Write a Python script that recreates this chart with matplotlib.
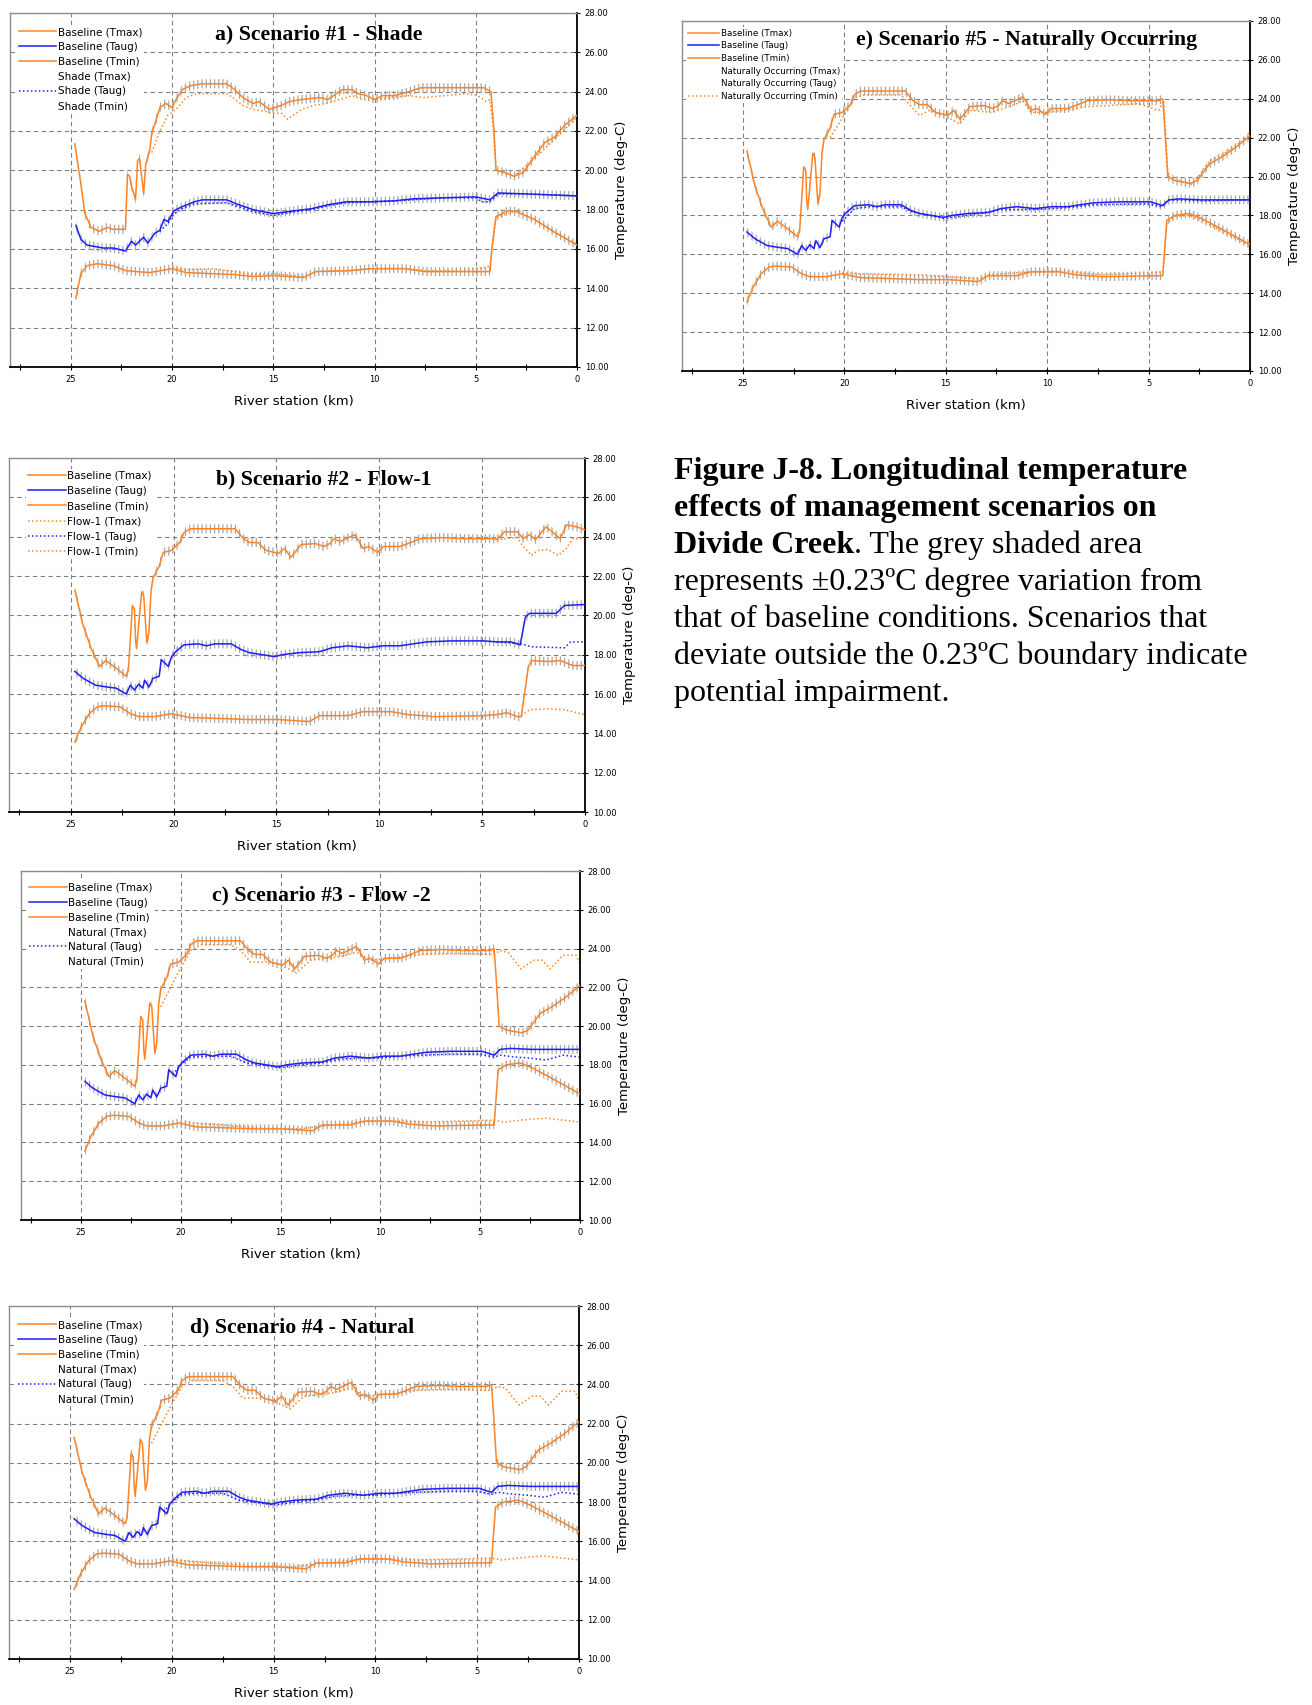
import matplotlib.pyplot as plt
from matplotlib.lines import Line2D
from matplotlib.ticker import FormatStrFormatter

# ---- baseline used in panels b-e (river km, deg C) ----
BASE_KM_MAX = [24.8, 24.4, 24.0, 23.6, 23.3, 22.9, 22.3, 22.2, 22.0, 21.9,
               21.85, 21.8, 21.55, 21.45, 21.3, 21.2, 21.1, 21.0, 20.7, 20.5,
               20.1, 19.7, 19.5, 19.2, 18.4, 17.0, 16.6, 16.3, 15.9, 15.5,
               14.9, 14.6, 14.3, 14.1, 13.8, 13.1, 12.7, 12.4, 12.2, 11.9,
               11.6, 11.2, 11.0, 10.8, 10.5, 10.1, 9.8, 9.0, 8.6, 8.0,
               6.9, 5.9, 4.5, 4.3, 4.2, 4.05, 3.7, 2.9, 2.6, 2.0,
               1.4, 0.7, 0.0]
BASE_TMAX = [21.3, 19.5, 18.3, 17.4, 17.7, 17.4, 16.9, 17.2, 20.5, 20.3,
             18.8, 18.3, 21.2, 21.0, 18.6, 19.1, 21.2, 21.9, 22.5, 23.2,
             23.3, 23.7, 24.2, 24.4, 24.4, 24.4, 23.9, 23.7, 23.7, 23.3,
             23.15, 23.4, 22.95, 23.2, 23.6, 23.65, 23.5, 23.65, 23.9, 23.75,
             23.9, 24.1, 23.8, 23.4, 23.5, 23.2, 23.5, 23.5, 23.65, 23.9,
             23.95, 23.9, 23.9, 24.0, 22.5, 20.0, 19.8, 19.65, 19.8, 20.65,
             21.0, 21.5, 22.1]
BASE_KM_AVG = [24.8, 24.4, 23.8, 23.2, 22.8, 22.3, 22.1, 21.9, 21.7, 21.5,
               21.4, 21.2, 21.0, 20.7, 20.6, 20.4, 20.25, 20.1, 19.9, 19.5,
               18.8, 18.4, 18.0, 17.2, 16.7, 16.3, 15.7, 15.1, 14.7, 13.9,
               12.9, 12.3, 11.5, 10.6, 9.8, 9.0, 7.7, 6.5, 4.9, 4.3,
               4.0, 3.5, 2.4, 0.0]
BASE_TAUG = [17.15, 16.8, 16.45, 16.35, 16.3, 16.0, 16.45, 16.2, 16.5, 16.3,
             16.7, 16.35, 16.8, 16.9, 17.75, 17.55, 17.4, 17.9, 18.15, 18.5,
             18.55, 18.45, 18.55, 18.55, 18.25, 18.1, 18.0, 17.9, 18.0, 18.1,
             18.15, 18.35, 18.45, 18.35, 18.45, 18.45, 18.65, 18.7, 18.7, 18.5,
             18.8, 18.85, 18.8, 18.8]
BASE_KM_MIN = [24.8, 24.5, 24.1, 23.7, 23.4, 22.6, 22.1, 21.7, 20.9, 20.1,
               19.2, 17.6, 16.3, 14.9, 13.4, 12.9, 11.5, 10.8, 9.4, 8.6,
               7.3, 4.9, 4.3, 4.1, 3.7, 3.0, 2.4, 1.4, 0.0]
BASE_TMIN = [13.55, 14.3, 15.0, 15.35, 15.4, 15.35, 15.0, 14.85, 14.85, 15.0,
             14.8, 14.75, 14.7, 14.7, 14.6, 14.9, 14.9, 15.1, 15.1, 14.95,
             14.85, 14.9, 14.9, 17.75, 18.0, 18.1, 17.85, 17.3, 16.5]

# ---- panel a baseline ----
A_KM_MAX = [24.8, 24.5, 24.3, 24.0, 23.6, 23.2, 22.9, 22.3, 22.2, 22.1,
            22.0, 21.8, 21.7, 21.6, 21.5, 21.4, 21.3, 21.1, 21.0, 20.8,
            20.6, 20.3, 20.0, 19.8, 19.5, 19.1, 18.5, 17.3, 16.9, 16.5,
            16.0, 15.7, 15.2, 14.6, 14.2, 13.6, 12.7, 12.3, 11.6, 11.1,
            10.8, 10.4, 10.0, 9.6, 9.0, 8.3, 7.7, 6.7, 5.7, 4.6,
            4.25, 4.1, 4.0, 3.6, 3.1, 2.65, 2.1, 1.6, 1.1, 0.6, 0.0]
A_TMAX = [21.35, 19.3, 17.8, 17.1, 16.9, 17.1, 17.0, 17.0, 19.8, 19.7,
          19.2, 18.5, 20.5, 20.6, 19.7, 18.8, 20.3, 21.0, 21.9, 22.5,
          23.2, 23.4, 23.2, 23.6, 24.1, 24.3, 24.4, 24.4, 24.1, 23.7,
          23.4, 23.5, 23.1, 23.3, 23.5, 23.6, 23.7, 23.6, 24.1, 24.1,
          23.9, 23.8, 23.6, 23.8, 23.8, 24.0, 24.2, 24.2, 24.2, 24.2,
          24.0, 22.0, 20.0, 19.9, 19.7, 19.9, 20.7, 21.4, 21.7, 22.3, 22.8]
A_KM_AVG = [24.75, 24.5, 24.2, 23.4, 22.9, 22.3, 22.0, 21.8, 21.4, 21.2,
            20.85, 20.6, 20.4, 20.2, 19.9, 19.5, 18.9, 18.5, 17.3, 16.7,
            16.0, 15.0, 13.9, 13.1, 12.3, 11.4, 10.2, 9.0, 8.1, 6.7,
            5.0, 4.3, 3.9, 2.5, 0.0]
A_TAUG = [17.2, 16.5, 16.2, 16.05, 16.05, 15.9, 16.4, 16.2, 16.6, 16.3,
          16.8, 16.95, 17.5, 17.4, 17.95, 18.15, 18.4, 18.5, 18.5, 18.25,
          18.0, 17.8, 17.95, 18.05, 18.25, 18.4, 18.4, 18.45, 18.55, 18.6,
          18.65, 18.5, 18.85, 18.8, 18.7]
A_KM_MIN = [24.75, 24.5, 24.2, 23.7, 22.9, 22.3, 21.7, 21.1, 20.0, 19.3,
            16.9, 16.0, 15.0, 13.5, 12.9, 11.2, 10.2, 8.5, 7.5, 4.3,
            4.2, 4.0, 3.4, 3.0, 2.1, 1.1, 0.0]
A_TMIN = [13.5, 14.75, 15.15, 15.25, 15.15, 14.9, 14.85, 14.8, 15.0, 14.8,
          14.7, 14.6, 14.65, 14.55, 14.85, 14.9, 15.0, 15.0, 14.85, 14.85,
          16.1, 17.65, 17.95, 17.9, 17.5, 16.85, 16.2]

# ---- panel a: Shade ----
SH_KM_MAX = [21.0, 20.6, 20.2, 19.8, 19.3, 18.8, 17.3, 17.0,
             16.5, 16.0, 15.4, 15.0, 14.6, 14.3, 13.6, 13.0, 12.4, 11.7,
             11.1, 10.6, 10.0, 9.2, 8.3, 7.6, 6.5, 5.5, 4.9, 4.5,
             4.3, 4.1, 4.0, 3.1, 2.1, 1.1, 0.0]
SH_TMAX = [20.9, 22.0, 22.8, 23.1, 23.7, 23.9, 23.9, 23.7,
           23.3, 23.1, 23.0, 22.9, 22.9, 22.6, 23.1, 23.3, 23.4, 23.6,
           23.8, 23.6, 23.6, 23.7, 23.8, 23.7, 23.8, 23.9, 23.8, 23.5,
           23.6, 21.8, 20.0, 19.7, 20.6, 21.6, 22.7]
SH_KM_AVG = [20.6, 20.2, 19.9, 19.5, 18.9, 17.3, 16.7, 16.0, 15.0, 13.9,
             13.1, 12.3, 11.4, 10.2, 9.0, 8.1, 6.7, 5.0, 4.7, 4.3,
             3.9, 2.5, 0.0]
SH_TAUG = [16.9, 17.3, 17.8, 18.05, 18.3, 18.35, 18.15, 17.9, 17.7, 17.9,
           18.0, 18.2, 18.35, 18.4, 18.45, 18.5, 18.6, 18.6, 18.4, 18.4,
           18.8, 18.8, 18.7]
SH_KM_MIN = [20.0, 19.3, 18.0, 16.9, 16.0, 15.0, 13.5, 12.9, 11.2, 10.2,
             8.5, 7.5, 5.5, 4.6, 4.3, 4.0, 3.0, 2.1, 1.1, 0.0]
SH_TMIN = [15.05, 14.95, 15.0, 14.85, 14.7, 14.75, 14.6, 14.85, 14.9, 15.0,
           15.0, 14.9, 14.9, 15.05, 15.15, 17.6, 17.95, 17.5, 16.85, 16.25]

# ---- panel b: baseline tail below km 4.3, Flow-1 ----
B_KM_MAX = [4.3, 3.9, 3.3, 3.0, 2.7, 2.4, 1.9, 1.6, 1.2, 0.9, 0.4, 0.0]
B_TMAX = [23.85, 24.25, 24.25, 23.9, 24.1, 23.85, 24.5, 24.25, 23.9, 24.6, 24.5, 24.35]
B_KM_AVG = [4.3, 3.6, 3.15, 2.9, 2.7, 1.4, 1.0, 0.0]
B_TAUG = [18.65, 18.65, 18.5, 19.9, 20.1, 20.1, 20.5, 20.55]
B_KM_MIN = [4.3, 3.8, 3.3, 3.1, 2.75, 2.6, 1.8, 1.2, 0.6, 0.0]
B_TMIN = [14.95, 15.05, 14.85, 14.85, 17.4, 17.7, 17.65, 17.7, 17.45, 17.45]
F1_KM_MAX = [4.3, 3.3, 3.0, 2.6, 2.3, 1.8, 1.3, 0.9, 0.6, 0.0]
F1_TMAX = [23.85, 23.95, 23.5, 23.05, 23.3, 23.35, 23.05, 23.4, 23.9, 23.9]
F1_KM_AVG = [4.3, 3.1, 2.6, 1.0, 0.7, 0.0]
F1_TAUG = [18.65, 18.55, 18.4, 18.35, 18.65, 18.65]
F1_KM_MIN = [3.1, 2.7, 1.8, 1.0, 0.0]
F1_TMIN = [14.9, 15.2, 15.25, 15.2, 14.95]

# ---- panels c, d: Natural ----
NA_KM_MAX = [21.0, 20.5, 20.0, 19.5, 19.0, 17.5, 17.0, 16.5, 15.5, 15.0,
             14.2, 13.5, 12.5, 12.0, 11.2, 10.5, 9.5, 8.0, 6.0, 4.6,
             4.3, 4.0, 3.6, 2.95, 2.6, 2.3, 1.9, 1.5, 0.85, 0.2, 0.0]
NA_TMAX = [21.0, 22.0, 23.0, 23.9, 24.2, 24.2, 23.9, 23.3, 23.3, 23.15,
           22.75, 23.4, 23.5, 23.6, 23.8, 23.4, 23.5, 23.7, 23.75, 23.7,
           23.7, 23.9, 23.8, 22.95, 23.2, 23.4, 23.4, 22.95, 23.65, 23.65, 23.2]
NA_KM_AVG = [20.4, 20.0, 19.5, 18.8, 17.5, 16.7, 16.0, 15.0, 14.0, 13.0,
             12.0, 11.0, 10.0, 9.0, 8.0, 6.5, 5.0, 4.3, 4.0, 3.2,
             2.5, 1.7, 0.85, 0.0]
NA_TAUG = [17.5, 18.0, 18.4, 18.45, 18.45, 18.1, 18.0, 17.85, 18.0, 18.1,
           18.3, 18.35, 18.35, 18.45, 18.5, 18.55, 18.55, 18.4, 18.5, 18.4,
           18.35, 18.25, 18.5, 18.4]
NA_KM_MIN = [20.0, 18.0, 16.0, 14.0, 12.5, 10.5, 9.0, 8.0, 6.0, 4.3,
             3.8, 2.5, 1.7, 0.85, 0.0]
NA_TMIN = [15.05, 14.9, 14.75, 14.7, 14.9, 15.1, 15.1, 15.05, 15.1, 15.15,
           15.05, 15.2, 15.25, 15.15, 15.05]

# ---- panel e: Naturally Occurring ----
NO_KM_MAX = [20.7, 20.1, 19.5, 19.0, 17.2, 16.7, 16.3, 15.8, 14.9, 14.3,
             13.8, 12.7, 11.6, 11.2, 10.8, 10.0, 8.6, 8.0, 7.0, 5.5,
             4.5, 4.25, 4.05, 3.7, 2.9, 2.6, 2.0, 1.4, 0.7, 0.0]
NO_TMAX = [22.0, 23.0, 24.05, 24.2, 24.2, 23.6, 23.15, 23.4, 23.05, 22.7,
           23.4, 23.3, 23.7, 23.9, 23.3, 23.3, 23.5, 23.6, 23.65, 23.75,
           23.4, 23.9, 20.0, 19.8, 19.6, 19.9, 20.8, 21.1, 21.6, 22.1]
NO_KM_AVG = [20.1, 19.5, 18.8, 17.2, 16.7, 15.1, 13.9, 12.3, 10.6, 9.0,
             7.7, 5.0, 4.4, 4.0, 2.4, 0.0]
NO_TAUG = [17.7, 18.35, 18.45, 18.45, 18.2, 17.85, 18.0, 18.3, 18.3, 18.4,
           18.55, 18.6, 18.45, 18.8, 18.75, 18.8]
NO_KM_MIN = [20.1, 19.2, 16.3, 14.9, 13.4, 12.9, 10.8, 9.4, 7.3, 5.0,
             4.3, 4.1, 3.7, 3.0, 2.4, 1.4, 0.0]
NO_TMIN = [15.05, 15.0, 14.95, 14.85, 14.75, 14.95, 15.1, 15.15, 14.95, 15.05,
           15.1, 17.6, 17.95, 18.0, 17.75, 17.2, 16.45]

ORANGE = '#ff8424'
BLUE = '#1e1eff'
BAND = '#a8a8a8'
DOT = (0, (1, 1.6))

plt.rcParams['hatch.color'] = BAND
plt.rcParams['hatch.linewidth'] = 0.9

W, H = 1312, 1705
fig = plt.figure(figsize=(W / 100, H / 100), dpi=100)


def rect(l, t, r, b):
    return [l / W, 1 - b / H, (r - l) / W, (b - t) / H]


def base_line(ax, km, vals, color):
    lo = [v - 0.23 for v in vals]
    hi = [v + 0.23 for v in vals]
    ax.fill_between(km, lo, hi, facecolor='none', edgecolor=BAND,
                    hatch='||||', linewidth=0, zorder=1)
    ax.plot(km, vals, color=color, lw=1.1, zorder=3)


def scen_line(ax, km, vals, color):
    ax.plot(km, vals, color=color, lw=1.1, ls=DOT, zorder=2)


def style(ax, title, tx, ty):
    ax.set_xlim(28, 0)
    ax.set_ylim(10, 28)
    ax.set_xticks([0, 5, 10, 15, 20, 25])
    ax.set_xticks([2.5, 7.5, 12.5, 17.5, 22.5, 27.5], minor=True)
    ax.set_yticks(range(10, 29, 2))
    ax.yaxis.set_major_formatter(FormatStrFormatter('%.2f'))
    ax.yaxis.tick_right()
    ax.yaxis.set_label_position('right')
    ax.tick_params(axis='both', which='both', direction='inout', length=5,
                   width=0.8, labelsize=6, pad=3)
    ax.tick_params(axis='y', left=False)
    ax.xaxis.grid(True, ls=(0, (4, 3)), color='#808080', lw=0.8)
    ax.yaxis.grid(True, ls=(0, (4, 3)), color='#808080', lw=0.8)
    ax.set_axisbelow(True)
    for s in ('left', 'top'):
        ax.spines[s].set_color('#8c8c8c')
        ax.spines[s].set_linewidth(1.0)
    for s in ('right', 'bottom'):
        ax.spines[s].set_color('black')
        ax.spines[s].set_linewidth(1.3)
    ax.set_xlabel('River station (km)', fontsize=9.5, labelpad=8)
    ax.set_ylabel('Temperature (deg-C)', fontsize=9.5, labelpad=5)
    ax.text(tx, ty, title, transform=ax.transAxes, ha='center', va='center',
            fontsize=15.7, fontweight='bold', family='Liberation Serif', zorder=5)


def legend(ax, entries, anchor, size=7.5, spacing=0.46):
    handles = [Line2D([], [], color=c, ls=ls, lw=1.1) for _, c, ls in entries]
    labels = [lab for lab, _, _ in entries]
    leg = ax.legend(handles, labels, loc='upper left', bbox_to_anchor=anchor,
                    borderaxespad=0, fontsize=size, handlelength=3.6,
                    handletextpad=0.15, labelspacing=spacing, borderpad=0.2,
                    frameon=True, facecolor='white', edgecolor='none',
                    framealpha=1)
    leg.set_zorder(6)


def base_entries(name, max_c, avg_c, min_c):
    return [('Baseline (Tmax)', ORANGE, '-'), ('Baseline (Taug)', BLUE, '-'),
            ('Baseline (Tmin)', ORANGE, '-'),
            (name + ' (Tmax)', max_c, DOT), (name + ' (Taug)', avg_c, DOT),
            (name + ' (Tmin)', min_c, DOT)]


# ---- panel a ----
ax = fig.add_axes(rect(10, 13, 577, 367))
base_line(ax, A_KM_MAX, A_TMAX, ORANGE)
base_line(ax, A_KM_AVG, A_TAUG, BLUE)
base_line(ax, A_KM_MIN, A_TMIN, ORANGE)
scen_line(ax, SH_KM_MAX, SH_TMAX, ORANGE)
scen_line(ax, SH_KM_AVG, SH_TAUG, BLUE)
scen_line(ax, SH_KM_MIN, SH_TMIN, ORANGE)
style(ax, 'a) Scenario #1 - Shade', 0.545, 0.94)
legend(ax, base_entries('Shade', 'none', BLUE, 'none'), (0.0115, 0.966))

# ---- panel e ----
ax = fig.add_axes(rect(682, 21, 1250, 371))
base_line(ax, BASE_KM_MAX, BASE_TMAX, ORANGE)
base_line(ax, BASE_KM_AVG, BASE_TAUG, BLUE)
base_line(ax, BASE_KM_MIN, BASE_TMIN, ORANGE)
scen_line(ax, NO_KM_MAX, NO_TMAX, ORANGE)
scen_line(ax, NO_KM_AVG, NO_TAUG, BLUE)
scen_line(ax, NO_KM_MIN, NO_TMIN, ORANGE)
style(ax, 'e) Scenario #5 - Naturally Occurring', 0.606, 0.945)
legend(ax, base_entries('Naturally Occurring', 'none', 'none', ORANGE),
       (0.007, 0.983), size=6.3, spacing=0.42)

# ---- panel b ----
ax = fig.add_axes(rect(9, 458, 585, 812))
bkm = [k for k in BASE_KM_MAX if k > 4.3] + B_KM_MAX
bv = [v for k, v in zip(BASE_KM_MAX, BASE_TMAX) if k > 4.3] + B_TMAX
base_line(ax, bkm, bv, ORANGE)
bkm = [k for k in BASE_KM_AVG if k > 4.3] + B_KM_AVG
bv = [v for k, v in zip(BASE_KM_AVG, BASE_TAUG) if k > 4.3] + B_TAUG
base_line(ax, bkm, bv, BLUE)
bkm = [k for k in BASE_KM_MIN if k > 4.3] + B_KM_MIN
bv = [v for k, v in zip(BASE_KM_MIN, BASE_TMIN) if k > 4.3] + B_TMIN
base_line(ax, bkm, bv, ORANGE)
scen_line(ax, F1_KM_MAX, F1_TMAX, ORANGE)
scen_line(ax, F1_KM_AVG, F1_TAUG, BLUE)
scen_line(ax, F1_KM_MIN, F1_TMIN, ORANGE)
style(ax, 'b) Scenario #2 - Flow-1', 0.547, 0.94)
legend(ax, base_entries('Flow-1', ORANGE, BLUE, ORANGE), (0.0295, 0.97),
       spacing=0.5)

# ---- panels c and d ----
for r, title, tx, ty, anc in [((21, 871, 580, 1220), 'c) Scenario #3 - Flow -2', 0.537, 0.93, (0.011, 0.972)),
                              ((9, 1306, 579, 1659), 'd) Scenario #4 - Natural', 0.514, 0.938, (0.013, 0.966))]:
    ax = fig.add_axes(rect(*r))
    base_line(ax, BASE_KM_MAX, BASE_TMAX, ORANGE)
    base_line(ax, BASE_KM_AVG, BASE_TAUG, BLUE)
    base_line(ax, BASE_KM_MIN, BASE_TMIN, ORANGE)
    scen_line(ax, NA_KM_MAX, NA_TMAX, ORANGE)
    scen_line(ax, NA_KM_AVG, NA_TAUG, BLUE)
    scen_line(ax, NA_KM_MIN, NA_TMIN, ORANGE)
    style(ax, title, tx, ty)
    legend(ax, base_entries('Natural', 'none', BLUE, 'none'), anc)

# ---- caption ----
CAP = dict(family='Liberation Serif', fontsize=23, ha='left')
x0, y0, dy = 674, 479, 37
fig.text(x0 / W, 1 - y0 / H, 'Figure J-8. Longitudinal temperature',
         fontweight='bold', va='baseline', **CAP)
fig.text(x0 / W, 1 - (y0 + dy) / H, 'effects of management scenarios on',
         fontweight='bold', va='baseline', **CAP)
t = fig.text(x0 / W, 1 - (y0 + 2 * dy) / H, 'Divide Creek', fontweight='bold',
             va='baseline', **CAP)
fig.add_artist(plt.Annotation('. The grey shaded area', xy=(1, 0), xycoords=t,
                              va='bottom', **CAP))
rest = ['represents \u00b10.23\u00baC degree variation from',
        'that of baseline conditions. Scenarios that',
        'deviate outside the 0.23\u00baC boundary indicate',
        'potential impairment.']
for i, line in enumerate(rest):
    fig.text(x0 / W, 1 - (y0 + (3 + i) * dy) / H, line, va='baseline', **CAP)

fig.savefig('out.png', dpi=100)
